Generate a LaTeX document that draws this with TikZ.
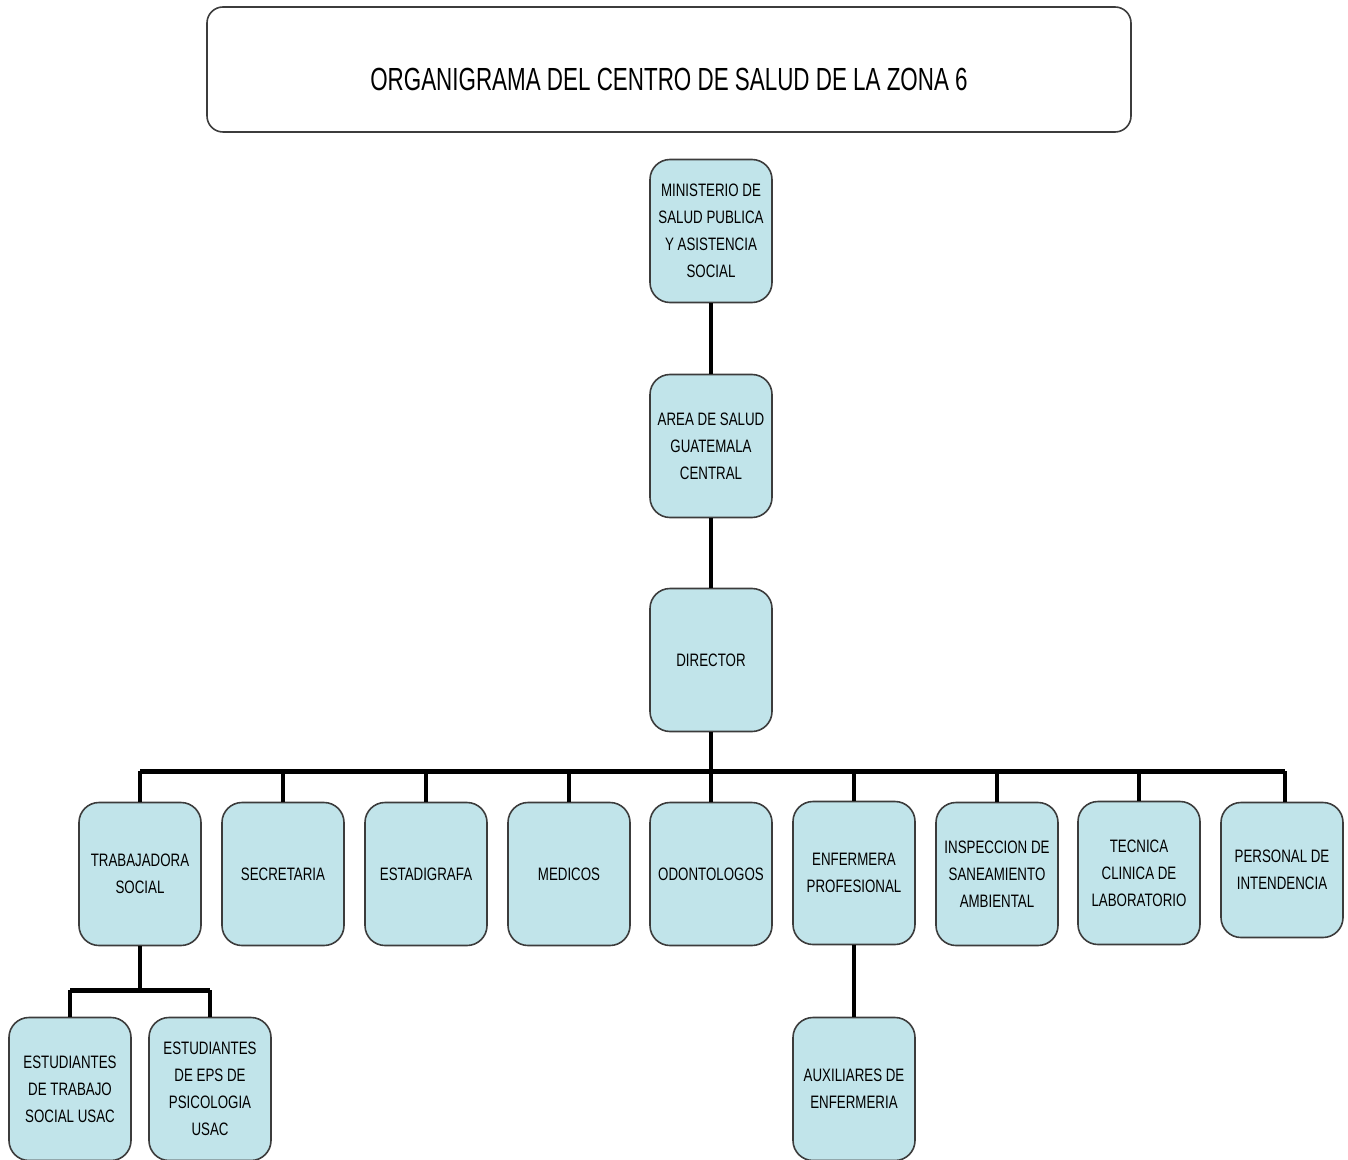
\documentclass[tikz,border=0pt]{standalone}
\usepackage{fontspec}
\newfontfamily\nar{Liberation Sans}[FakeStretch=0.74]
\newfontfamily\titlefont{Liberation Sans}[FakeStretch=0.70]
\definecolor{boxfill}{RGB}{193,228,234}
\definecolor{boxline}{RGB}{60,60,60}
\tikzset{
  unit/.style={draw=boxline, line width=0.8pt, fill=boxfill, rounded corners=10pt,
    minimum width=61pt, minimum height=71.5pt, inner sep=1pt, align=center,
    font=\fontsize{9}{13.5}\selectfont\nar},
  titlebox/.style={draw=boxline, line width=0.8pt, rounded corners=8pt,
    minimum width=462pt, minimum height=62.5pt, font=\fontsize{16}{19}\selectfont\titlefont},
  link/.style={line width=2pt},
  busline/.style={line width=2.5pt},
  dropline/.style={line width=1.6pt}
}
\begin{document}
\begin{tikzpicture}[x=0.5pt,y=-0.5pt]
\clip (0,0) rectangle (1348,1160);
\useasboundingbox (0,0) rectangle (1348,1160);
\node[titlebox] (title) at (669,69.5) {\raisebox{-6pt}[12pt][3pt]{ORGANIGRAMA DEL CENTRO DE SALUD DE LA ZONA 6}};

\node[unit] (min) at (711,231) {MINISTERIO DE\\SALUD PUBLICA\\Y ASISTENCIA\\SOCIAL};
\node[unit] (area) at (711,446) {AREA DE SALUD\\GUATEMALA\\CENTRAL};
\node[unit] (dir) at (711,660) {DIRECTOR};

\node[unit] (trab) at (140,874) {TRABAJADORA\\SOCIAL};
\node[unit] (secr) at (283,874) {SECRETARIA};
\node[unit] (esta) at (426,874) {ESTADIGRAFA};
\node[unit] (medi) at (569,874) {MEDICOS};
\node[unit] (odon) at (711,874) {ODONTOLOGOS};
\node[unit] (enfe) at (854,873) {ENFERMERA\\PROFESIONAL};
\node[unit] (insp) at (997,874) {INSPECCION DE\\SANEAMIENTO\\AMBIENTAL};
\node[unit] (tecn) at (1139,873) {TECNICA\\CLINICA DE\\LABORATORIO};
\node[unit, minimum height=67.5pt] (pers) at (1282,870) {PERSONAL DE\\INTENDENCIA};

\node[unit] (est1) at (70,1089) {ESTUDIANTES\\DE TRABAJO\\SOCIAL USAC};
\node[unit] (est2) at (210,1089) {ESTUDIANTES\\DE EPS DE\\PSICOLOGIA\\USAC};
\node[unit] (auxi) at (854,1089) {AUXILIARES DE\\ENFERMERIA};

\coordinate (bus) at (711,771);
\coordinate (subbus) at (140,990);

\draw[link] (min.south) -- (area.north);
\draw[link] (area.south) -- (dir.north);
\draw[link] (dir.south) -- (bus);
\draw[busline] (trab.north |- bus) -- ([xshift=1.5pt]pers.north |- bus);
\foreach \n in {trab,secr,esta,medi,odon,enfe,insp,tecn}
  \draw[dropline] (\n.north |- bus) -- (\n.north);
\draw[dropline] ([xshift=1.5pt]pers.north |- bus) -- ([xshift=1.5pt]pers.north);

\draw[link] (trab.south) -- (subbus);
\draw[busline] (est1.north |- subbus) -- (est2.north |- subbus);
\draw[dropline] (est1.north |- subbus) -- (est1.north);
\draw[dropline] (est2.north |- subbus) -- (est2.north);

\draw[link] (enfe.south) -- (auxi.north);
\end{tikzpicture}
\end{document}
